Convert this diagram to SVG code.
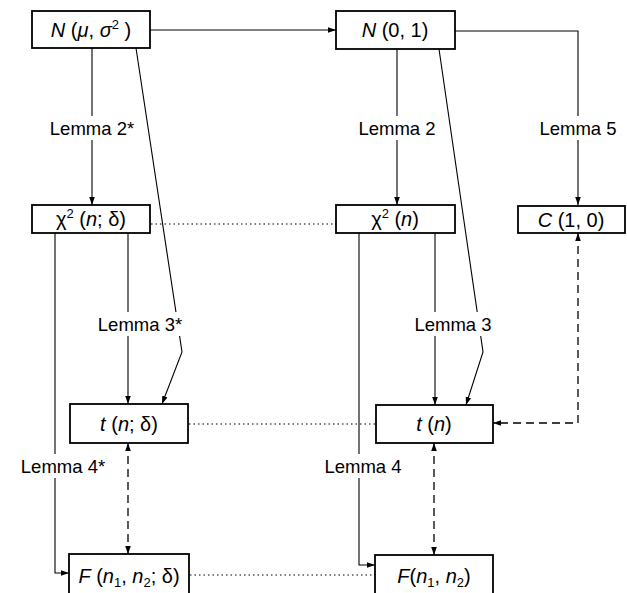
<svg xmlns="http://www.w3.org/2000/svg" width="627" height="593" viewBox="0 0 627 593">
<style>
.box{fill:#fff;stroke:#000;stroke-width:1.8}
.ln{fill:none;stroke:#000;stroke-width:1.1}
.dash{fill:none;stroke:#000;stroke-width:1.3;stroke-dasharray:8 5}
.dot{fill:none;stroke:#000;stroke-width:1.2;stroke-dasharray:1.5 3}
.t{font-family:"Liberation Sans",Arial,sans-serif;font-size:20px;text-anchor:middle;fill:#000}
.lem{font-family:"Liberation Sans",Arial,sans-serif;font-size:18.5px;text-anchor:middle;fill:#000}
.i{font-style:italic}
.bg{fill:#fff}
</style>
<defs>
<marker id="ah" viewBox="0 0 10 10" refX="10" refY="5" markerWidth="8" markerHeight="8" markerUnits="userSpaceOnUse" orient="auto-start-reverse">
<path d="M0,1.5 L10,5 L0,8.5 z" fill="#000"/>
</marker>
</defs>
<g id="connectors">
<line class="ln" x1="150" y1="30" x2="336" y2="30" marker-end="url(#ah)"/>
<polyline class="ln" points="455,31 578,31 578,205" marker-end="url(#ah)"/>
<line class="ln" x1="92" y1="48" x2="92" y2="205" marker-end="url(#ah)"/>
<polyline class="ln" points="136,48 182,352 162,404" marker-end="url(#ah)"/>
<line class="ln" x1="128" y1="233" x2="128" y2="404" marker-end="url(#ah)"/>
<polyline class="ln" points="55,233 55,573 69,573" marker-end="url(#ah)"/>
<line class="ln" x1="397" y1="49" x2="397" y2="205" marker-end="url(#ah)"/>
<polyline class="ln" points="439,49 483,352 466,405" marker-end="url(#ah)"/>
<line class="ln" x1="435" y1="233" x2="435" y2="405" marker-end="url(#ah)"/>
<polyline class="ln" points="359,233 359,565 375,565" marker-end="url(#ah)"/>
<polyline class="dash" points="578,233 578,423 493,423" marker-start="url(#ah)" marker-end="url(#ah)"/>
<line class="dash" x1="128" y1="443" x2="128" y2="554" marker-start="url(#ah)" marker-end="url(#ah)"/>
<line class="dash" x1="434" y1="443" x2="434" y2="555" marker-start="url(#ah)" marker-end="url(#ah)"/>
<line class="dot" x1="151" y1="224" x2="336" y2="224"/>
<line class="dot" x1="189" y1="424" x2="376" y2="424"/>
<line class="dot" x1="190" y1="575" x2="375" y2="575"/>
</g>
<g id="labels">
<rect class="bg" x="44" y="116" width="96" height="24"/>
<text class="lem" x="92" y="135">Lemma 2*</text>
<rect class="bg" x="355" y="116" width="84" height="24"/>
<text class="lem" x="397" y="135">Lemma 2</text>
<rect class="bg" x="538" y="116" width="82" height="24"/>
<text class="lem" x="578" y="135">Lemma 5</text>
<rect class="bg" x="98" y="312" width="82" height="24"/>
<text class="lem" x="140" y="331">Lemma 3*</text>
<rect class="bg" x="413" y="312" width="80" height="24"/>
<text class="lem" x="453" y="331">Lemma 3</text>
<rect class="bg" x="16" y="454" width="94" height="24"/>
<text class="lem" x="63" y="473">Lemma 4*</text>
<rect class="bg" x="321" y="454" width="84" height="24"/>
<text class="lem" x="363" y="473">Lemma 4</text>
</g>
<g id="n_mu_sigma">
<rect class="box" x="32" y="11" width="118" height="37"/>
<text class="t" x="91" y="37"><tspan class="i">N</tspan> (<tspan class="i">μ</tspan>, <tspan class="i">σ</tspan><tspan font-size="13" dy="-8">2</tspan><tspan dy="8"> )</tspan></text>
</g>
<g id="n_0_1">
<rect class="box" x="336" y="11" width="119" height="38"/>
<text class="t" x="395" y="37"><tspan class="i">N</tspan> (0, 1)</text>
</g>
<g id="chi2_n_delta">
<rect class="box" x="32" y="205" width="118" height="28"/>
<text class="t" x="91" y="226">χ<tspan font-size="13" dy="-8">2</tspan><tspan dy="8"> (</tspan><tspan class="i">n</tspan>; δ)</text>
</g>
<g id="chi2_n">
<rect class="box" x="336" y="205" width="119" height="28"/>
<text class="t" x="395" y="226">χ<tspan font-size="13" dy="-8">2</tspan><tspan dy="8"> (</tspan><tspan class="i">n</tspan>)</text>
</g>
<g id="c_1_0">
<rect class="box" x="518" y="206" width="107" height="27"/>
<text class="t" x="571" y="227"><tspan class="i">C</tspan> (1, 0)</text>
</g>
<g id="t_n_delta">
<rect class="box" x="70" y="404" width="118" height="39"/>
<text class="t" x="129" y="431"><tspan class="i">t</tspan> (<tspan class="i">n</tspan>; δ)</text>
</g>
<g id="t_n">
<rect class="box" x="376" y="405" width="117" height="38"/>
<text class="t" x="434" y="431"><tspan class="i">t</tspan> (<tspan class="i">n</tspan>)</text>
</g>
<g id="f_n1_n2_delta">
<rect class="box" x="69" y="554" width="120" height="50"/>
<text class="t" x="129" y="583"><tspan class="i">F</tspan> (<tspan class="i">n</tspan><tspan font-size="13" dy="4">1</tspan><tspan dy="-4">, </tspan><tspan class="i">n</tspan><tspan font-size="13" dy="4">2</tspan><tspan dy="-4">; δ)</tspan></text>
</g>
<g id="f_n1_n2">
<rect class="box" x="375" y="555" width="118" height="50"/>
<text class="t" x="434" y="583"><tspan class="i">F</tspan>(<tspan class="i">n</tspan><tspan font-size="13" dy="4">1</tspan><tspan dy="-4">, </tspan><tspan class="i">n</tspan><tspan font-size="13" dy="4">2</tspan><tspan dy="-4">)</tspan></text>
</g>
</svg>
